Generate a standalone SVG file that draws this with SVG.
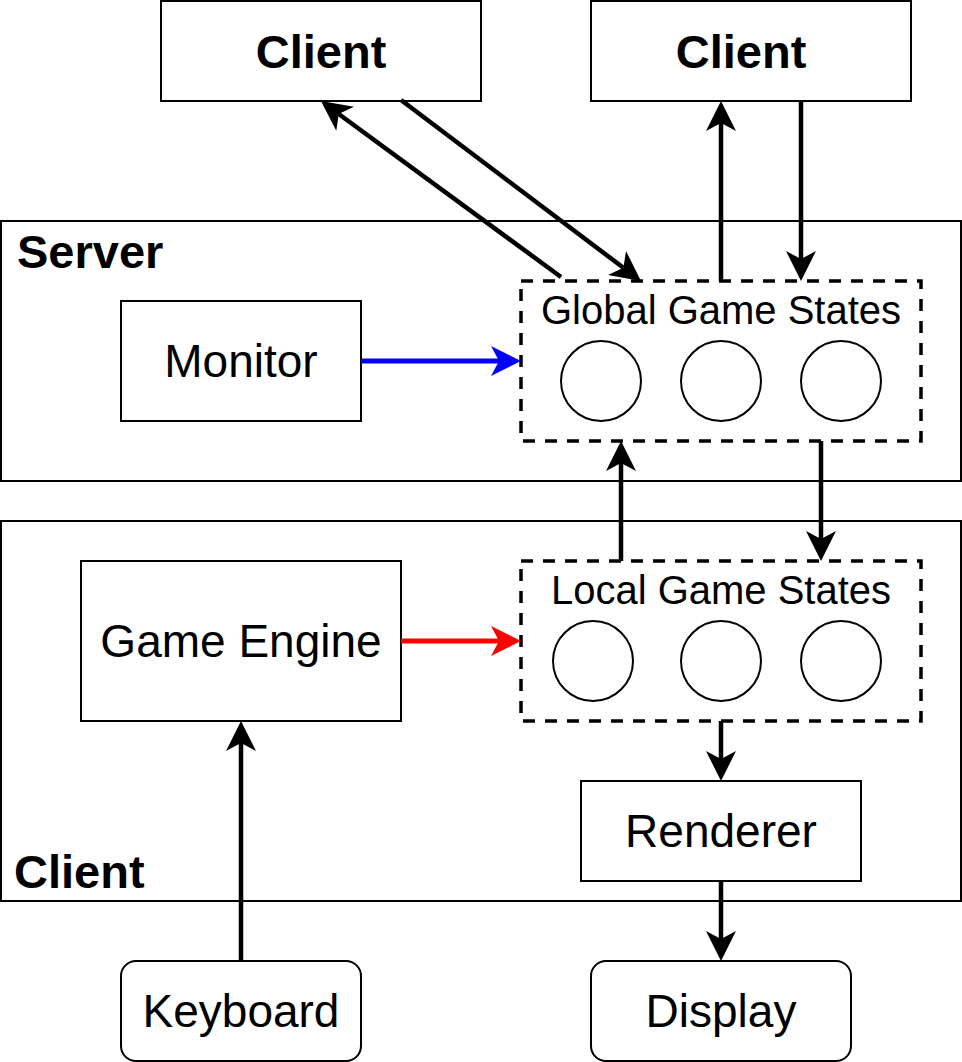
<svg xmlns="http://www.w3.org/2000/svg" width="962" height="1062" viewBox="0 0 962 1062">
<style>
.box{fill:#fff;stroke:#000;stroke-width:2}
.dash{fill:#fff;stroke:#000;stroke-width:3.5;stroke-dasharray:12 10}
.circ{fill:#fff;stroke:#000;stroke-width:2}
.t{font-family:"Liberation Sans",Arial,Helvetica,sans-serif;font-size:46px;fill:#000}
.ts{font-family:"Liberation Sans",Arial,Helvetica,sans-serif;font-size:40px;fill:#000}
.b{font-family:"Liberation Sans",Arial,Helvetica,sans-serif;font-size:47px;font-weight:bold;fill:#000}
.e{fill:none;stroke:#000;stroke-width:4.5}
.eb{fill:none;stroke:#00f;stroke-width:5}
.er{fill:none;stroke:#f00;stroke-width:5}
</style>
<defs>
<marker id="ak" markerUnits="userSpaceOnUse" viewBox="0 -16 31 32" markerWidth="31" markerHeight="32" refX="8" refY="0" orient="auto"><path d="M0,-15 L30,0 L0,15 L8,0 Z" fill="#000"/></marker>
<marker id="ab" markerUnits="userSpaceOnUse" viewBox="0 -16 31 32" markerWidth="31" markerHeight="32" refX="8" refY="0" orient="auto"><path d="M0,-15 L30,0 L0,15 L8,0 Z" fill="#00f"/></marker>
<marker id="ar" markerUnits="userSpaceOnUse" viewBox="0 -16 31 32" markerWidth="31" markerHeight="32" refX="8" refY="0" orient="auto"><path d="M0,-15 L30,0 L0,15 L8,0 Z" fill="#f00"/></marker>
</defs>
<rect width="962" height="1062" fill="#fff"/>
<g id="server">
<rect class="box" x="1" y="221" width="960" height="260"/>
<text class="b" x="17" y="268">Server</text>
</g>
<g id="client-container">
<rect class="box" x="1" y="521" width="960" height="380"/>
<text class="b" x="14" y="888">Client</text>
</g>
<g id="client-top-left">
<rect class="box" x="161" y="1" width="320" height="100"/>
<text class="b" x="321" y="68" text-anchor="middle">Client</text>
</g>
<g id="client-top-right">
<rect class="box" x="591" y="1" width="320" height="100"/>
<text class="b" x="741" y="68" text-anchor="middle">Client</text>
</g>
<g id="monitor">
<rect class="box" x="121" y="301" width="240" height="120"/>
<text class="t" x="241" y="377" text-anchor="middle">Monitor</text>
</g>
<g id="global-states">
<rect class="dash" x="521" y="281" width="400" height="160"/>
<text class="ts" x="721" y="324" text-anchor="middle">Global Game States</text>
<circle class="circ" cx="601" cy="381" r="40"/>
<circle class="circ" cx="721" cy="381" r="40"/>
<circle class="circ" cx="841" cy="381" r="40"/>
</g>
<g id="game-engine">
<rect class="box" x="81" y="561" width="320" height="160"/>
<text class="t" x="241" y="657" text-anchor="middle">Game Engine</text>
</g>
<g id="local-states">
<rect class="dash" x="521" y="561" width="400" height="160"/>
<text class="ts" x="721" y="604" text-anchor="middle">Local Game States</text>
<circle class="circ" cx="593" cy="661" r="40"/>
<circle class="circ" cx="721" cy="661" r="40"/>
<circle class="circ" cx="841" cy="661" r="40"/>
</g>
<g id="renderer">
<rect class="box" x="581" y="781" width="280" height="100"/>
<text class="t" x="721" y="847" text-anchor="middle">Renderer</text>
</g>
<g id="keyboard">
<rect class="box" x="121" y="961" width="240" height="100" rx="15" ry="15"/>
<text class="t" x="241" y="1027" text-anchor="middle">Keyboard</text>
</g>
<g id="display">
<rect class="box" x="591" y="961" width="260" height="100" rx="15" ry="15"/>
<text class="t" x="721" y="1027" text-anchor="middle">Display</text>
</g>
<g id="connectors">
<line class="e" x1="561" y1="277" x2="338.7" y2="114" marker-end="url(#ak)"/>
<line class="e" x1="401" y1="100" x2="623.4" y2="267.8" marker-end="url(#ak)"/>
<line class="e" x1="721" y1="281" x2="721" y2="123" marker-end="url(#ak)"/>
<line class="e" x1="801" y1="101" x2="801" y2="259" marker-end="url(#ak)"/>
<line class="eb" x1="361" y1="361" x2="499" y2="361" marker-end="url(#ab)"/>
<line class="er" x1="401" y1="641" x2="499" y2="641" marker-end="url(#ar)"/>
<line class="e" x1="621" y1="561" x2="621" y2="463" marker-end="url(#ak)"/>
<line class="e" x1="821" y1="441" x2="821" y2="539" marker-end="url(#ak)"/>
<line class="e" x1="721" y1="721" x2="721" y2="759" marker-end="url(#ak)"/>
<line class="e" x1="721" y1="881" x2="721" y2="939" marker-end="url(#ak)"/>
<line class="e" x1="241" y1="961" x2="241" y2="743" marker-end="url(#ak)"/>
</g>
</svg>
